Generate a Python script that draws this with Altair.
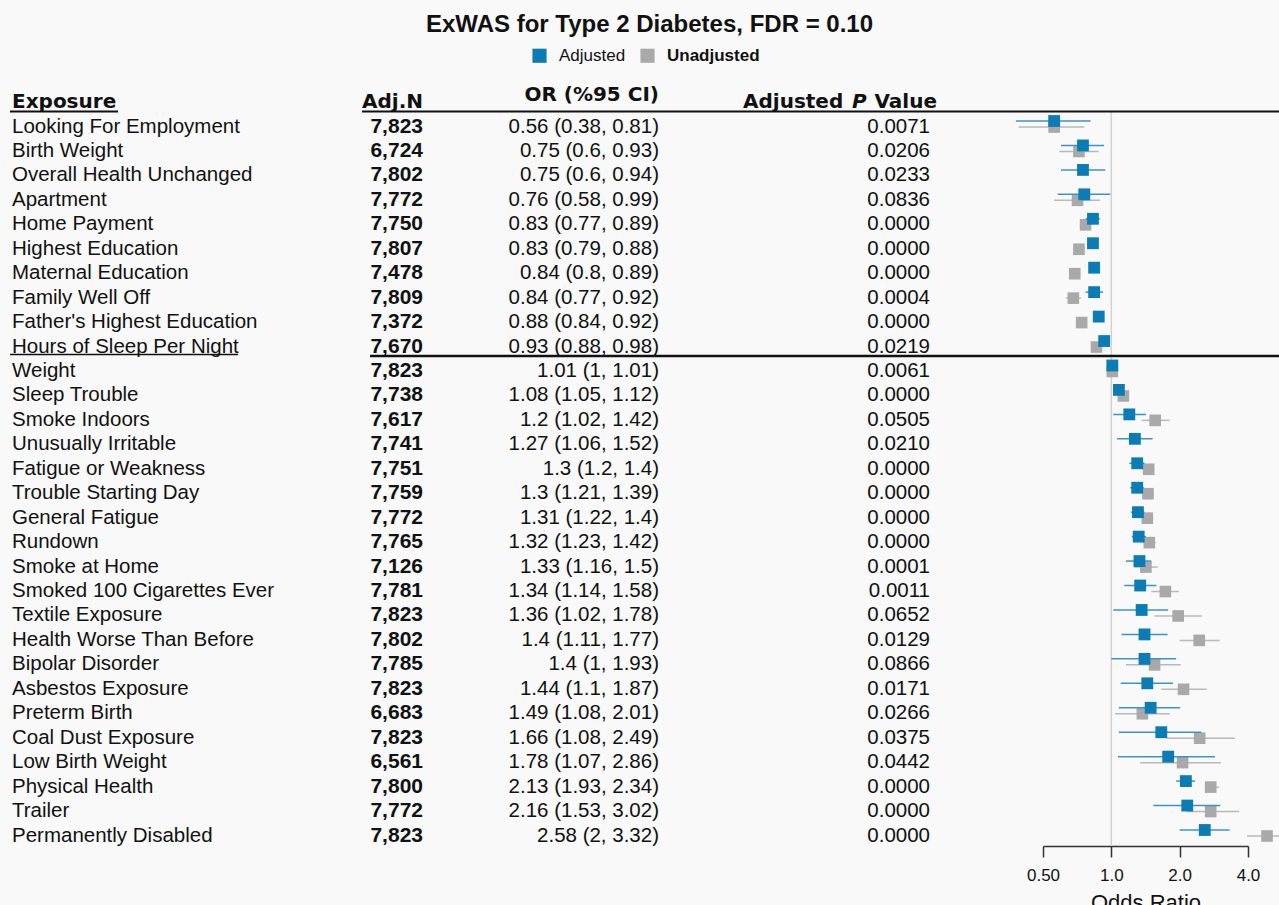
import altair as alt
import pandas as pd

# ---- data -------------------------------------------------------------
exposures = [
    "Looking For Employment", "Birth Weight", "Overall Health Unchanged",
    "Apartment", "Home Payment", "Highest Education", "Maternal Education",
    "Family Well Off", "Father's Highest Education", "Hours of Sleep Per Night",
    "Weight", "Sleep Trouble", "Smoke Indoors", "Unusually Irritable",
    "Fatigue or Weakness", "Trouble Starting Day", "General Fatigue", "Rundown",
    "Smoke at Home", "Smoked 100 Cigarettes Ever", "Textile Exposure",
    "Health Worse Than Before", "Bipolar Disorder", "Asbestos Exposure",
    "Preterm Birth", "Coal Dust Exposure", "Low Birth Weight", "Physical Health",
    "Trailer", "Permanently Disabled",
]
adj_n = [7823, 6724, 7802, 7772, 7750, 7807, 7478, 7809, 7372, 7670,
         7823, 7738, 7617, 7741, 7751, 7759, 7772, 7765, 7126, 7781,
         7823, 7802, 7785, 7823, 6683, 7823, 6561, 7800, 7772, 7823]
or_adj = [0.56, 0.75, 0.75, 0.76, 0.83, 0.83, 0.84, 0.84, 0.88, 0.93,
          1.01, 1.08, 1.2, 1.27, 1.3, 1.3, 1.31, 1.32, 1.33, 1.34,
          1.36, 1.4, 1.4, 1.44, 1.49, 1.66, 1.78, 2.13, 2.16, 2.58]
lo_adj = [0.38, 0.6, 0.6, 0.58, 0.77, 0.79, 0.8, 0.77, 0.84, 0.88,
          1, 1.05, 1.02, 1.06, 1.2, 1.21, 1.22, 1.23, 1.16, 1.14,
          1.02, 1.11, 1, 1.1, 1.08, 1.08, 1.07, 1.93, 1.53, 2]
hi_adj = [0.81, 0.93, 0.94, 0.99, 0.89, 0.88, 0.89, 0.92, 0.92, 0.98,
          1.01, 1.12, 1.42, 1.52, 1.4, 1.39, 1.4, 1.42, 1.5, 1.58,
          1.78, 1.77, 1.93, 1.87, 2.01, 2.49, 2.86, 2.34, 3.02, 3.32]
p_adj = [0.0071, 0.0206, 0.0233, 0.0836, 0.0000, 0.0000, 0.0000, 0.0004, 0.0000, 0.0219,
         0.0061, 0.0000, 0.0505, 0.0210, 0.0000, 0.0000, 0.0000, 0.0000, 0.0001, 0.0011,
         0.0652, 0.0129, 0.0866, 0.0171, 0.0266, 0.0375, 0.0442, 0.0000, 0.0000, 0.0000]

# unadjusted model estimates (None where no unadjusted estimate is shown)
or_unadj = [0.56, 0.72, None, 0.71, 0.77, 0.72, 0.69, 0.68, 0.74, 0.86,
            1.01, 1.13, 1.56, None, 1.46, 1.45, 1.44, 1.47, 1.42, 1.73,
            1.97, 2.44, 1.55, 2.08, 1.37, 2.45, 2.06, 2.74, 2.74, 4.85]
lo_unadj = [0.39, 0.59, None, 0.56, 0.74, 0.70, 0.67, 0.63, 0.72, 0.82,
            1.00, 1.10, 1.36, None, 1.37, 1.37, 1.36, 1.38, 1.26, 1.50,
            1.55, 2.00, 1.16, 1.66, 1.04, 1.75, 1.34, 2.58, 2.15, 3.96]
hi_unadj = [0.76, 0.88, None, 0.89, 0.80, 0.75, 0.71, 0.735, 0.77, 0.89,
            1.02, 1.16, 1.81, None, 1.55, 1.54, 1.53, 1.57, 1.60, 1.98,
            2.50, 3.00, 2.02, 2.63, 1.81, 3.50, 3.04, 2.98, 3.65, 5.60]

models = ["Adjusted", "Unadjusted"]
header_cols = ["Exposure", "Adj.N", "OR (%95 CI)"]
p_header = ["Adjusted", "P", "Value"]
axis_ticks = [0.5, 1, 2, 4]

# ---- styling ------------------------------------------------------------
BODY = "Liberation Sans"
HEAD = "DejaVu Sans"
INK = "#111111"
BLUE = "#0b7db4"
BLUE_CI = "#3a93cb"
GREY = "#a9a9a9"
GREY_CI = "#b9b9b9"

rows = pd.DataFrame({
    "row": list(range(1, len(exposures) + 1)),
    "exposure": exposures, "n": adj_n,
    "or": or_adj, "lo": lo_adj, "hi": hi_adj, "p": p_adj,
    "or_un": or_unadj, "lo_un": lo_unadj, "hi_un": hi_unadj,
})
rows["n_label"] = [f"{n:,}" for n in adj_n]
rows["or_label"] = [f"{o:g} ({l:g}, {h:g})" for o, l, h in zip(or_adj, lo_adj, hi_adj)]
rows["p_label"] = [f"{p:.4f}" for p in p_adj]

base = alt.Chart(rows)
one = alt.Chart(pd.DataFrame({"k": [0]}))

# table rows run top to bottom, first exposure at the top
Y = alt.Y("row:Q",
          scale=alt.Scale(domain=[1, len(exposures)], range=[81, 790],
                          nice=False, zero=False),
          axis=None)

xscale = alt.Scale(type="log", domain=[0.5, 4], range=[1043, 1248],
                   nice=False, clamp=False)
xaxis = alt.Axis(
    values=axis_ticks,
    labelExpr="datum.value < 1 ? format(datum.value, '.2f') : format(datum.value, '.1f')",
    grid=False, domainColor="#333333", domainWidth=1.5,
    tickColor="#333333", tickWidth=1.5, tickSize=11,
    labelFont=BODY, labelFontSize=17, labelColor=INK, labelPadding=10,
    labelFlush=False,
    titleFont=BODY, titleFontSize=22, titleFontWeight="normal",
    titleColor=INK, titlePadding=9,
)


def xenc(field):
    return alt.X(field, scale=xscale, axis=xaxis, title="Odds Ratio")


color = alt.Color(
    "model:N",
    scale=alt.Scale(domain=models, range=[BLUE, GREY]),
    legend=alt.Legend(
        orient="none", legendX=531, legendY=7, direction="horizontal",
        title=None, symbolType="square", symbolSize=200, symbolStrokeWidth=0,
        labelFont=BODY, labelFontSize=17, labelColor=INK,
        labelFontWeight={"expr": "datum.label == 'Unadjusted' ? 'bold' : 'normal'"},
        labelOffset=11, columnPadding=13, padding=0,
    ),
)

# ---- table columns -----------------------------------------------------
txt = dict(baseline="alphabetic", dy=11.5, font=BODY, fontSize=20.5, color=INK)
col_exposure = base.mark_text(align="left", **txt).encode(
    x=alt.value(12), y=Y, text="exposure:N")
col_n = base.mark_text(align="right", fontWeight="bold",
                       **{**txt, "fontSize": 21}).encode(
    x=alt.value(423), y=Y, text="n_label:N")
col_or = base.mark_text(align="right", **txt).encode(
    x=alt.value(659), y=Y, text="or_label:N")
col_p = base.mark_text(align="right", **txt).encode(
    x=alt.value(930), y=Y, text="p_label:N")

hd = dict(baseline="alphabetic", font=HEAD, fontSize=20, fontWeight="bold", color=INK)
head_exposure = one.mark_text(align="left", **hd).encode(
    x=alt.value(12), y=alt.value(68), text=alt.value(header_cols[0]))
head_n = one.mark_text(align="right", **hd).encode(
    x=alt.value(423), y=alt.value(68), text=alt.value(header_cols[1]))
head_or = one.mark_text(align="right", **hd).encode(
    x=alt.value(659), y=alt.value(61), text=alt.value(header_cols[2]))
head_p1 = one.mark_text(align="left", **hd).encode(
    x=alt.value(743), y=alt.value(68), text=alt.value(p_header[0]))
head_p2 = one.mark_text(align="left", fontStyle="italic", **hd).encode(
    x=alt.value(852), y=alt.value(68), text=alt.value(p_header[1]))
head_p3 = one.mark_text(align="right", **hd).encode(
    x=alt.value(937), y=alt.value(68), text=alt.value(p_header[2]))

# ---- rules -------------------------------------------------------------
def hline(x0, x1, y, w):
    return one.mark_rule(color=INK, strokeWidth=w).encode(
        x=alt.value(x0), x2=alt.value(x1), y=alt.value(y))


lines = [
    hline(10, 118, 71.5, 2),      # underline of "Exposure"
    hline(362, 1279, 71.5, 2),    # header rule
    hline(10, 238, 314.5, 1.5),   # underline of last protective exposure
    hline(370, 1279, 316, 2.5),   # protective / risk separator
]

ref = alt.Chart(pd.DataFrame({"ref": [1.0]})).mark_rule(
    color="#d2d2d2", strokeWidth=1.5).encode(
    x=xenc("ref:Q"), y=alt.value(71), y2=alt.value(806))

# ---- forest marks --------------------------------------------------------
unadj = base.transform_filter("isValid(datum.or_un)").transform_calculate(
    model="'Unadjusted'")
adj = base.transform_calculate(model="'Adjusted'")

un_ci = unadj.mark_rule(color=GREY_CI, strokeWidth=1.5, yOffset=6).encode(
    x=xenc("lo_un:Q"), x2="hi_un:Q", y=Y)
un_pt = unadj.mark_point(shape="square", filled=True, size=135, opacity=1,
                         yOffset=6).encode(
    x=xenc("or_un:Q"), y=Y, color=color)
ad_ci = adj.mark_rule(color=BLUE_CI, strokeWidth=1.5).encode(
    x=xenc("lo:Q"), x2="hi:Q", y=Y)
ad_pt = adj.mark_point(shape="square", filled=True, size=140, opacity=1).encode(
    x=xenc("or:Q"), y=Y, color=color)

chart = alt.layer(
    ref, *lines,
    col_exposure, col_n, col_or, col_p,
    head_exposure, head_n, head_or, head_p1, head_p2, head_p3,
    un_ci, un_pt, ad_ci, ad_pt,
).properties(
    width=1279, height=806,
    autosize="none",
    padding={"left": 0, "top": 40, "right": 0, "bottom": 59},
    background="#f9f9f9",
    title=alt.TitleParams(
        "ExWAS for Type 2 Diabetes, FDR = 0.10",
        font=BODY, fontSize=24, fontWeight="bold", color=INK,
        anchor="middle", baseline="alphabetic", offset=-16, dx=10,
    ),
).configure_view(stroke=None)

chart.save("out.html", embed_options={"renderer": "svg", "actions": False})
